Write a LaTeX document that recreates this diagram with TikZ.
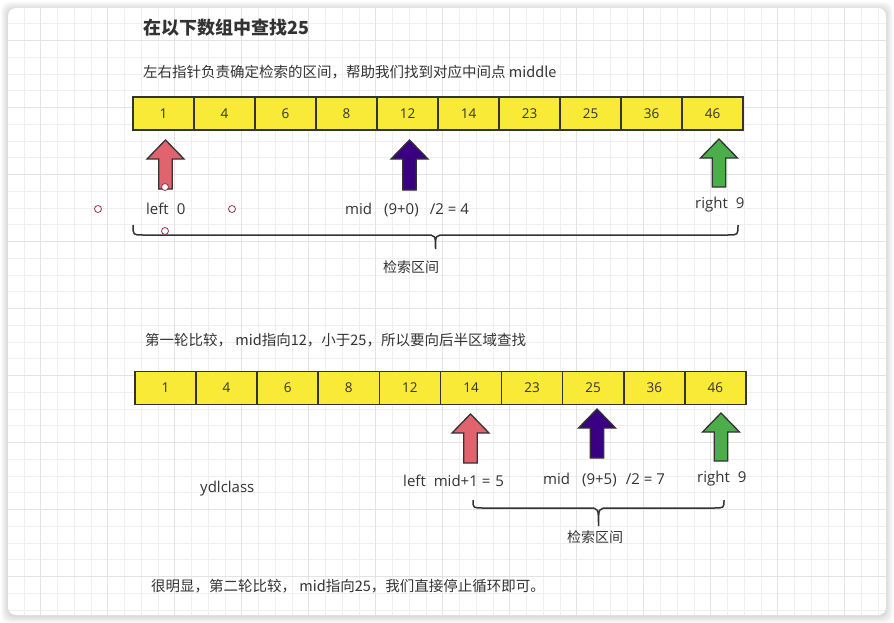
\documentclass[tikz,border=0pt]{standalone}
\usepackage{fontspec}
\setmainfont{Noto Sans CJK SC}
\newfontfamily\latinf{Open Sans}
\usetikzlibrary{calc}
\definecolor{txt}{HTML}{333333}
\definecolor{cellfill}{HTML}{F8EA36}
\definecolor{redA}{HTML}{E1636E}
\definecolor{purA}{HTML}{3A0082}
\definecolor{grnA}{HTML}{4BAE4A}
\definecolor{gridminor}{HTML}{EFEFEF}
\definecolor{gridmajor}{HTML}{E3E3E3}
\definecolor{handle}{HTML}{9A3050}
\newcommand\uparr[4]{%
  \path[draw=txt, line width=1.3pt, fill=#4, line join=miter]
   (#1-6.75,#3) -- (#1-6.75,#2+19) -- (#1-18.5,#2+19) -- (#1,#2) -- (#1+18.5,#2+19) -- (#1+6.75,#2+19) -- (#1+6.75,#3) -- cycle;}
\newcommand\mybrace[5]{% x1, x2, yend, yhoriz, ytip
  \path[draw=txt, line width=1.5pt]
   (#1,#3) .. controls (#1,#4) .. (#1+10,#4) -- ({(#1+#2)/2-10},#4) .. controls ({(#1+#2)/2},#4) .. ({(#1+#2)/2},#5)
   .. controls ({(#1+#2)/2},#4) .. ({(#1+#2)/2+10},#4) -- (#2-10,#4) .. controls (#2,#4) .. (#2,#3);}
\newcommand\gap[1]{\hspace*{#1pt}}
\tikzset{
  cell/.style={rectangle, draw=txt, line width=1.5pt, fill=cellfill, minimum width=61pt, minimum height=33pt, inner sep=0pt, text=txt, font=\latinf\fontsize{13.5}{15}\selectfont},
  lbl/.style={inner sep=0pt, text=txt, font=\latinf\fontsize{15}{17}\selectfont},
  cjklbl/.style={inner sep=0pt, text=txt, font=\fontsize{14}{16}\selectfont},
  para/.style={inner sep=0pt, anchor=west, text=txt, font=\fontsize{14.5}{17}\selectfont},
  hnd/.style={circle, draw=handle, fill=white, line width=0.8pt, minimum size=7pt, inner sep=0pt}
}
\begin{document}
\begin{tikzpicture}[x=1pt, y=-1pt]
\useasboundingbox (0,0) rectangle (894,623);
\fill[white] (0,0) rectangle (894,623);
% shadow
\foreach \s in {1,...,7}
  \fill[black, opacity=0.018, rounded corners=8pt] (8-\s, 8-\s+1) rectangle (886+\s, 615+\s+1);
\fill[white, rounded corners=8pt] (8,8) rectangle (886,615);
% grid
\begin{scope}
\clip[rounded corners=8pt] (8,8) rectangle (886,615);
\foreach \k in {0,...,53} {
  \pgfmathsetmacro\gx{7.3+16.75*\k}
  \draw[gridminor, line width=0.9pt] (\gx,8) -- (\gx,615);
}
\foreach \k in {0,...,37} {
  \pgfmathsetmacro\gy{7+16.75*\k}
  \draw[gridminor, line width=0.9pt] (8,\gy) -- (886,\gy);
}
\foreach \k in {2,6,...,50} {
  \pgfmathsetmacro\gx{7.3+16.75*\k}
  \draw[gridmajor, line width=1pt] (\gx,8) -- (\gx,615);
}
\foreach \k in {2,6,...,34} {
  \pgfmathsetmacro\gy{7+16.75*\k}
  \draw[gridmajor, line width=1pt] (8,\gy) -- (886,\gy);
}
\end{scope}
% texts
\node[para, font=\bfseries\fontsize{18}{21}\selectfont] (title) at (143,28) {在以下数组中查找25};
\node[para] (sub) at (143,72) {左右指针负责确定检索的区间，帮助我们找到对应中间点 middle};
% array 1
\foreach \v [count=\i from 0] in {1,4,6,8,12,14,23,25,36,46}
  \node[cell] (a\i) at (163.5+61*\i, 113.5) {\v};
% arrows 1
\uparr{165.5}{140}{189}{redA}
\uparr{409.5}{140}{190}{purA}
\uparr{719}{139}{187}{grnA}
% handles
\node[hnd] (h1) at (98,209) {};
\node[hnd] (h2) at (232,209) {};
\node[hnd] (h3) at (165,187) {};
% labels 1
\node[lbl, anchor=west] (l1) at (146,209) {left\gap{8}0};
\node[lbl, anchor=west] (m1) at (345,210) {mid\gap{12}(9+0)\gap{11}/2\gap{4}=\gap{4}4};
\node[lbl, anchor=west] (r1) at (695,205) {right\gap{8}9};
\mybrace{133}{738}{225}{235}{249}
\node[hnd] (h4) at (165,231) {};
\node[cjklbl] (k1) at (411,267) {检索区间};
% section 2
\node[para] (sec2) at (145,340) {第一轮比较， mid指向12，小于25，所以要向后半区域查找};
\foreach \v [count=\i from 0] in {1,4,6,8,12,14,23,25,36,46}
  \node[cell] (b\i) at (165.5+61.1*\i, 388) {\v};
\uparr{470.5}{414}{463}{redA}
\uparr{597}{409}{458}{purA}
\uparr{721}{413}{461}{grnA}
\node[lbl, anchor=west] (l2) at (403,481) {left\gap{8}mid+1\gap{4}=\gap{5}5};
\node[lbl, anchor=west] (m2) at (543,480) {mid\gap{12}(9+5)\gap{9}/2\gap{4}=\gap{4}7};
\node[lbl, anchor=west] (r2) at (697,479) {right\gap{8}9};
\node[lbl, anchor=west] (yd) at (200,489) {ydlclass};
\mybrace{473}{724}{500}{508}{526}
\node[cjklbl] (k2) at (595,537) {检索区间};
\node[para] (fin) at (151,586) {很明显，第二轮比较， mid指向25，我们直接停止循环即可。};
\end{tikzpicture}
\end{document}
